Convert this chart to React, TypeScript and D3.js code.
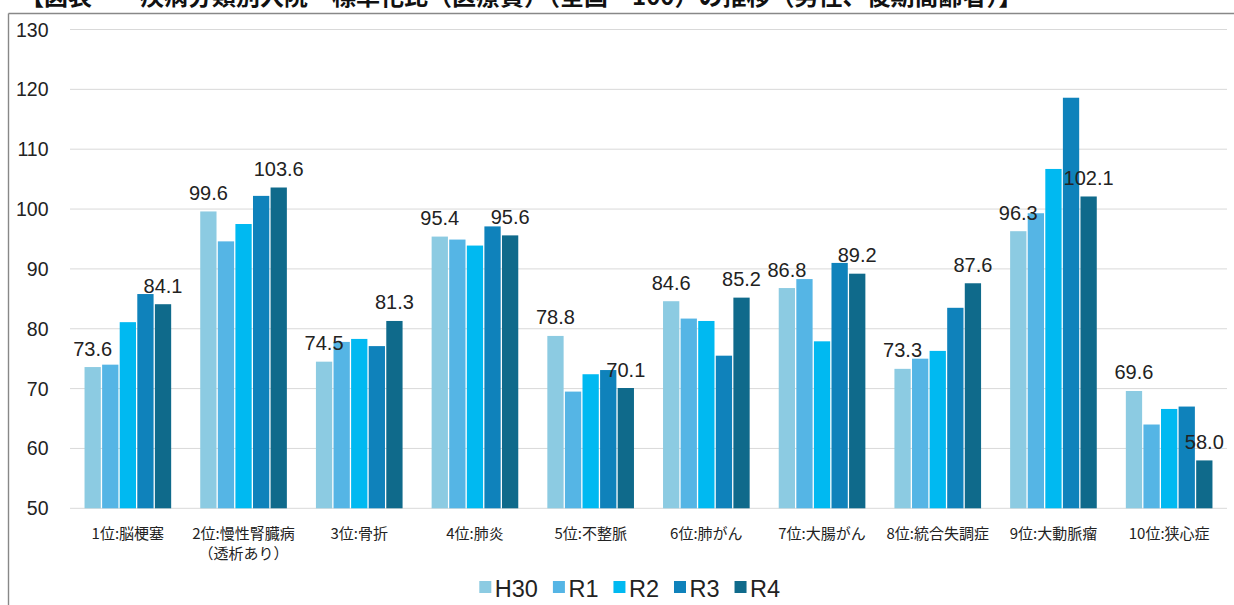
import React from "react";
import * as d3 from "d3";

// 疾病分類（上位10位）
const categories = [
  ["1位:脳梗塞"],
  ["2位:慢性腎臓病", "（透析あり）"],
  ["3位:骨折"],
  ["4位:肺炎"],
  ["5位:不整脈"],
  ["6位:肺がん"],
  ["7位:大腸がん"],
  ["8位:統合失調症"],
  ["9位:大動脈瘤"],
  ["10位:狭心症"],
];

const seriesNames = ["H30", "R1", "R2", "R3", "R4"];
const seriesColors = ["#8ccbe2", "#55b5e5", "#00b9f1", "#0f82bb", "#0f6a8b"];

const valuesH30 = [73.6, 99.6, 74.5, 95.4, 78.8, 84.6, 86.8, 73.3, 96.3, 69.6];
const valuesR1 = [74.0, 94.6, 77.8, 94.9, 69.5, 81.7, 88.3, 75.0, 99.3, 64.0];
const valuesR2 = [81.1, 97.5, 78.3, 93.9, 72.4, 81.3, 77.9, 76.3, 106.7, 66.6];
const valuesR3 = [85.8, 102.2, 77.1, 97.1, 73.1, 75.5, 91.0, 83.5, 118.6, 67.0];
const valuesR4 = [84.1, 103.6, 81.3, 95.6, 70.1, 85.2, 89.2, 87.6, 102.1, 58.0];
const seriesValues = [valuesH30, valuesR1, valuesR2, valuesR3, valuesR4];

// 数値ラベルを付ける系列（H30 と R4）
const labelledSeries = [0, 4];

const yTicks = [50, 60, 70, 80, 90, 100, 110, 120, 130];

const title = "【図表　　疾病分類別入院　標準化比（医療費）（全国＝100）の推移（男性、後期高齢者）】";

const W = 1234;
const H = 605;
const plotLeft = 70;
const plotRight = 1227;
const yTop = 29.5;
const yBottom = 508.3;

const numFont = "'Liberation Sans', Arial, sans-serif";
const jpFont = "'Noto Sans CJK JP', 'Noto Sans CJK SC', sans-serif";

function measure(text: string, font: string): number {
  const c = document.createElement("canvas").getContext("2d");
  if (!c) return text.length * 12;
  c.font = font;
  return c.measureText(text).width;
}

export default function App() {
  const x = d3
    .scaleBand<number>()
    .domain(d3.range(categories.length))
    .range([plotLeft, plotRight])
    .paddingInner(0.24)
    .paddingOuter(0.12);
  const xs = d3
    .scaleBand<number>()
    .domain(d3.range(seriesNames.length))
    .range([0, x.bandwidth()]);
  const y = d3.scaleLinear().domain([50, 130]).range([yBottom, yTop]);

  const gap = 1.3;

  // 凡例の配置
  const legendFontSize = 23.5;
  const legendSq = 12;
  let lx = 479.3;
  const legendItems = seriesNames.map((name, i) => {
    const item = { name, i, x: lx };
    const tw = measure(name, `${legendFontSize}px 'Liberation Sans', Arial, sans-serif`);
    lx += legendSq + 3.5 + tw + 15;
    return item;
  });

  return (
    <svg
      width={W}
      height={H}
      style={{ position: "absolute", left: 0, top: 0, background: "#fff" }}
    >
      {/* タイトル */}
      <text
        x={20}
        y={5}
        fontFamily={jpFont}
        fontSize={24}
        fontWeight={700}
        fill="#111"
      >
        {title}
      </text>

      {/* 外枠 */}
      <line x1={8.5} x2={W} y1={13.5} y2={13.5} stroke="#888" strokeWidth={1.4} />
      <line x1={8.5} x2={8.5} y1={13.5} y2={H} stroke="#888" strokeWidth={1.4} />

      {/* 目盛線 */}
      {yTicks.map((t) => (
        <g key={t}>
          <line
            x1={plotLeft}
            x2={plotRight}
            y1={y(t)}
            y2={y(t)}
            stroke="#d9d9d9"
            strokeWidth={1}
          />
          <text
            x={48.5}
            y={y(t) + 7}
            textAnchor="end"
            fontFamily={numFont}
            fontSize={19.5}
            fill="#222"
          >
            {t}
          </text>
        </g>
      ))}

      {/* 棒 */}
      {categories.map((_, ci) => (
        <g key={ci} transform={`translate(${x(ci)},0)`}>
          {seriesValues.map((vals, si) => (
            <rect
              key={si}
              x={(xs(si) as number) + gap / 2}
              width={xs.bandwidth() - gap}
              y={y(vals[ci])}
              height={y(50) - y(vals[ci])}
              fill={seriesColors[si]}
            />
          ))}
        </g>
      ))}

      {/* 数値ラベル */}
      {categories.map((_, ci) =>
        labelledSeries.map((si) => {
          const v = seriesValues[si][ci];
          const cx = (x(ci) as number) + (xs(si) as number) + xs.bandwidth() / 2;
          return (
            <text
              key={`${ci}-${si}`}
              x={cx}
              y={y(v) - 11.5}
              textAnchor="middle"
              fontFamily={numFont}
              fontSize={20}
              fill="#222"
            >
              {v.toFixed(1)}
            </text>
          );
        })
      )}

      {/* 項目ラベル */}
      {categories.map((lines, ci) => {
        const cx = (x(ci) as number) + x.bandwidth() / 2;
        return (
          <text
            key={ci}
            textAnchor="middle"
            fontFamily={jpFont}
            fontSize={15}
            fill="#222"
          >
            {lines.map((ln, li) => (
              <tspan key={li} x={cx} y={538.5 + li * 20.5}>
                {ln}
              </tspan>
            ))}
          </text>
        );
      })}

      {/* 凡例 */}
      {legendItems.map((it) => (
        <g key={it.name}>
          <rect
            x={it.x}
            y={581}
            width={legendSq}
            height={legendSq}
            fill={seriesColors[it.i]}
          />
          <text
            x={it.x + legendSq + 3.5}
            y={596.5}
            fontFamily={numFont}
            fontSize={legendFontSize}
            fill="#222"
          >
            {it.name}
          </text>
        </g>
      ))}
    </svg>
  );
}
